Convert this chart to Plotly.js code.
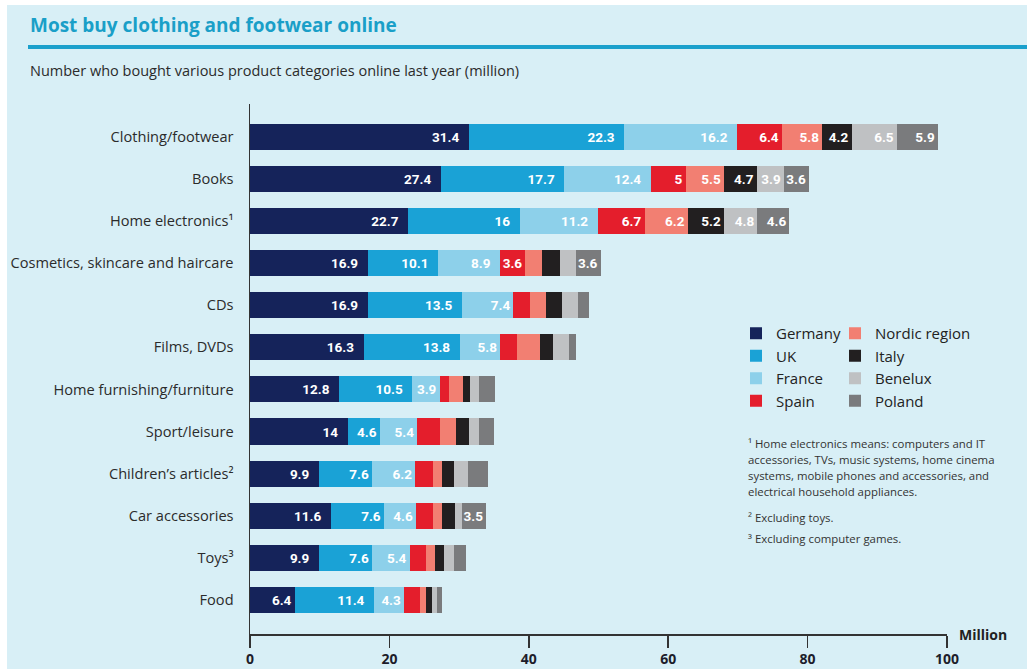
<!DOCTYPE html>
<html>
<head>
<meta charset="utf-8">
<script src="https://cdn.plot.ly/plotly-3.0.1.min.js"></script>
<style>html,body{margin:0;padding:0;background:#fff;}#chart{width:1027px;height:669px;}</style>
</head>
<body>
<div id="chart"></div>
<script>
// ---------- DATA ----------
const categories = ["Clothing/footwear", "Books", "Home electronics\u00b9", "Cosmetics, skincare and haircare", "CDs", "Films, DVDs", "Home furnishing/furniture", "Sport/leisure", "Children\u2019s articles\u00b2", "Car accessories", "Toys\u00b3", "Food"];
const germany = [31.4, 27.4, 22.7, 16.9, 16.9, 16.3, 12.8, 14, 9.9, 11.6, 9.9, 6.4];
const uk      = [22.3, 17.7, 16, 10.1, 13.5, 13.8, 10.5, 4.6, 7.6, 7.6, 7.6, 11.4];
const france  = [16.2, 12.4, 11.2, 8.9, 7.4, 5.8, 3.9, 5.4, 6.2, 4.6, 5.4, 4.3];
const spain   = [6.4, 5, 6.7, 3.6, 2.4, 2.4, 1.3, 3.2, 2.6, 2.4, 2.4, 2.3];
const nordic  = [5.8, 5.5, 6.2, 2.4, 2.3, 3.3, 2.0, 2.3, 1.3, 1.3, 1.3, 0.8];
const italy   = [4.2, 4.7, 5.2, 2.6, 2.3, 1.9, 1.0, 1.9, 1.7, 1.9, 1.3, 0.9];
const benelux = [6.5, 3.9, 4.8, 2.2, 2.2, 2.2, 1.4, 1.4, 2.0, 1.0, 1.4, 0.7];
const poland  = [5.9, 3.6, 4.6, 3.6, 1.6, 1.0, 2.2, 2.2, 2.8, 3.5, 1.7, 0.8];
const xTicks = [0, 20, 40, 60, 80, 100];
const labelMin = 3.5; // smaller segments carry no value label in the original

// ---------- LAYOUT HELPERS ----------
const W = 1027, H = 669;
const M = {l: 250, r: 80, t: 104, b: 35};
const PW = W - M.l - M.r, PH = H - M.t - M.b;
const px = x => (x - M.l) / PW;
const py = y => (H - M.b - y) / PH;

const FONT = "Open Sans, DejaVu Sans, sans-serif";
const NUMFONT = "Roboto, Open Sans, sans-serif";
const series = [
  {name: "Germany", v: germany, c: "#15235a", leg: "legend"},
  {name: "UK", v: uk, c: "#1aa2d6", leg: "legend"},
  {name: "France", v: france, c: "#8dd0ea", leg: "legend"},
  {name: "Spain", v: spain, c: "#e41e2c", leg: "legend"},
  {name: "Nordic region", v: nordic, c: "#f27f72", leg: "legend2"},
  {name: "Italy", v: italy, c: "#221f20", leg: "legend2"},
  {name: "Benelux", v: benelux, c: "#bfc1c3", leg: "legend2"},
  {name: "Poland", v: poland, c: "#7a7b7d", leg: "legend2"}
];

const traces = series.map(s => ({
  type: "bar",
  orientation: "h",
  name: s.name,
  x: s.v,
  y: categories,
  marker: {color: s.c, line: {width: 0}},
  text: s.v.map(v => v >= labelMin ? (v >= 8 ? String(v) + "\u00a0\u00a0" : String(v)) : ""),
  textposition: "inside",
  insidetextanchor: "end",
  textangle: 0,
  constraintext: "none",
  textfont: {family: NUMFONT, size: 13.5, color: "#ffffff", weight: 700},
  legend: s.leg,
  hoverinfo: "x+y+name"
}));

const notes = [
  {t: "\u00b9 Home electronics means: computers and IT", y: 443},
  {t: "accessories, TVs, music systems, home cinema", y: 459},
  {t: "systems, mobile phones and accessories, and", y: 475},
  {t: "electrical household appliances.", y: 491},
  {t: "\u00b2 Excluding toys.", y: 517},
  {t: "\u00b3 Excluding computer games.", y: 538}
];

const annotations = [
  {xref: "paper", yref: "paper", x: px(28), y: py(70), xanchor: "left", yanchor: "middle",
   text: "Number who bought various product categories online last year (million)", showarrow: false,
   font: {family: FONT, size: 14.5, color: "#2b2b2b"}},
  {xref: "paper", yref: "paper", x: px(957), y: py(634), xanchor: "left", yanchor: "middle",
   text: "Million", showarrow: false, font: {family: FONT, size: 14, color: "#222", weight: 700}}
].concat(notes.map(n => ({
  xref: "paper", yref: "paper", x: px(746), y: py(n.y), xanchor: "left", yanchor: "middle",
  text: n.t, showarrow: false, font: {family: FONT, size: 11.4, color: "#333"}
})));

const shapes = [
  {type: "rect", xref: "paper", yref: "paper", x0: px(0), x1: px(7), y0: py(H), y1: py(0), fillcolor: "#ffffff", line: {width: 0}, layer: "below"},
  {type: "rect", xref: "paper", yref: "paper", x0: px(0), x1: px(W), y0: py(5), y1: py(0), fillcolor: "#ffffff", line: {width: 0}, layer: "below"},
  {type: "line", xref: "paper", yref: "paper", x0: px(28), x1: px(W), y0: py(47), y1: py(47), line: {color: "#1aa0cc", width: 4}}
];

const layout = {
  width: W, height: H,
  margin: M,
  paper_bgcolor: "#d8eff6",
  plot_bgcolor: "rgba(0,0,0,0)",
  barmode: "stack",
  bargap: 0.38,
  title: {
    text: "<b>Most buy clothing and footwear online</b>",
    xref: "container", yref: "container", x: 30 / W, y: 1 - 25 / H, xanchor: "left", yanchor: "middle",
    font: {family: FONT, size: 19, color: "#1a9fc8"}
  },
  xaxis: {
    range: [0, 100], tickvals: xTicks, ticktext: xTicks.map(String),
    showgrid: false, zeroline: false, showline: true, linecolor: "#333", linewidth: 1.5,
    ticks: "outside", ticklen: 12, tickwidth: 1.5, tickcolor: "#333",
    tickfont: {family: FONT, size: 14, color: "#1d1d2b", weight: 700},
    fixedrange: true
  },
  yaxis: {
    type: "category", categoryorder: "array", categoryarray: categories,
    range: [11.81, -0.78],
    showgrid: false, zeroline: false, showline: true, linecolor: "#333", linewidth: 1.5,
    ticks: "", ticklabelstandoff: 12,
    tickfont: {family: FONT, size: 14.6, color: "#2b2b2b"},
    fixedrange: true
  },
  legend: {x: px(736), y: py(317), xanchor: "left", yanchor: "top", bgcolor: "rgba(0,0,0,0)",
           font: {family: FONT, size: 15, color: "#222"}, traceorder: "normal", tracegroupgap: 0},
  legend2: {x: px(835), y: py(317), xanchor: "left", yanchor: "top", bgcolor: "rgba(0,0,0,0)",
            font: {family: FONT, size: 15, color: "#222"}, traceorder: "normal", tracegroupgap: 0},
  annotations: annotations,
  shapes: shapes,
  showlegend: true
};

Plotly.newPlot("chart", traces, layout, {displayModeBar: false, staticPlot: true});
</script>
</body>
</html>
